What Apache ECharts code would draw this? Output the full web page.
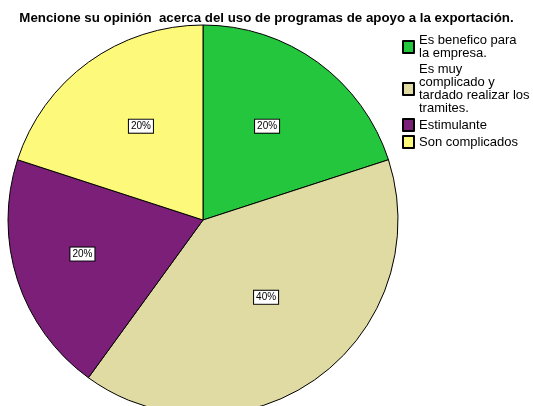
<!DOCTYPE html>
<html>
<head>
<meta charset="utf-8">
<script src="https://cdn.jsdelivr.net/npm/echarts@6/dist/echarts.min.js"></script>
<style>
  html, body { margin: 0; padding: 0; background: #fff; }
  #chart { width: 533px; height: 406px; }
</style>
</head>
<body>
<div id="chart"></div>
<script>
const categories = [
  'Es benefico para\nla empresa.',
  'Es muy\ncomplicado y\ntardado realizar los\ntramites.',
  'Estimulante',
  'Son complicados'
];
const values = [20, 40, 20, 20];
const sliceColors = ['#23c63d', '#dfdba3', '#7b1f78', '#fdf97a'];
// small nudges so the inside labels sit where the original put them
const labelNudges = [[5, -12.5], [4, -4], [-25, 3], [-3, -12.5]];

const chart = echarts.init(document.getElementById('chart'));

const option = {
  backgroundColor: '#ffffff',
  animation: false,
  title: {
    text: 'Mencione su opinión  acerca del uso de programas de apoyo a la exportación.',
    left: 'center',
    top: 12,
    padding: 0,
    textStyle: {
      fontFamily: 'Liberation Sans, Arial, sans-serif',
      fontSize: 13.3,
      fontWeight: 'bold',
      color: '#000'
    }
  },
  legend: {
    orient: 'vertical',
    left: 402,
    top: 34,
    padding: 0,
    itemWidth: 11,
    itemHeight: 12,
    itemGap: 3,
    icon: 'rect',
    data: categories,
    textStyle: {
      fontFamily: 'Liberation Sans, Arial, sans-serif',
      fontSize: 13,
      lineHeight: 13,
      color: '#000'
    }
  },
  series: [
    {
      type: 'pie',
      center: [203, 220],
      radius: 195,
      startAngle: 90,
      clockwise: true,
      avoidLabelOverlap: false,
      itemStyle: {
        borderColor: '#000',
        borderWidth: 1
      },
      emphasis: { disabled: true },
      label: {
        show: true,
        position: 'inside',
        formatter: (p) => Math.round(p.percent) + '%',
        fontFamily: 'Liberation Sans, Arial, sans-serif',
        fontSize: 10,
        color: '#000',
        backgroundColor: '#fff',
        borderColor: '#000',
        borderWidth: 1,
        padding: [2, 2, 1, 2]
      },
      labelLine: { show: false },
      data: categories.map((name, i) => ({
        name: name,
        value: values[i],
        itemStyle: { color: sliceColors[i] },
        label: { offset: labelNudges[i] }
      }))
    }
  ]
};

chart.setOption(option);
</script>
</body>
</html>
